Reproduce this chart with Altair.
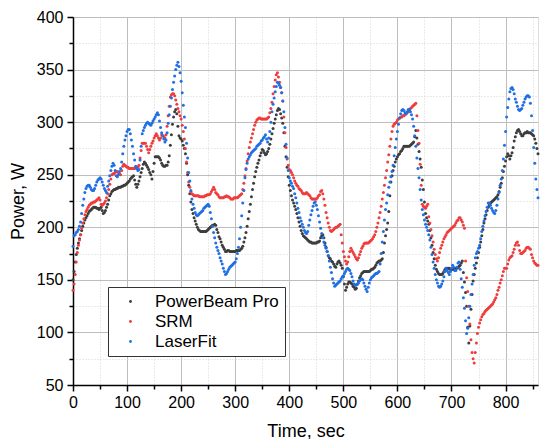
import altair as alt
import pandas as pd

time_s = list(range(0, 861, 2))

powerbeam = [
    150, 158, 167, 174, 180, 185, 189, 193, 197, 201, 204, 207, 209, 211, 213, 215, 216, 217, 218, 219,
    219, 219, 218, 218, 217, 218, 219, 216, 213, 214, 216, 219, 222, 226, 230, 232, 234, 235, 236, 236,
    237, 237, 238, 238, 238, 239, 239, 240, 240, 241, 242, 243, 244, 246, 247, 248, 249, 245, 241, 238,
    241, 244, 248, 252, 256, 260, 262, 261, 259, 257, 255, 252, 250, 246, 253, 261, 267, 267, 267, 267,
    266, 264, 261, 259, 258, 258, 259, 259, 262, 268, 278, 288, 298, 305, 310, 312, 308, 296, 287, 285,
    284, 282, 278, 275, 270, 261, 250, 240, 232, 224, 217, 213, 209, 206, 203, 200, 198, 197, 196, 196,
    196, 196, 196, 196, 197, 198, 199, 200, 201, 202, 202, 203, 202, 198, 195, 191, 189, 186, 183, 181,
    179, 177, 177, 178, 178, 177, 177, 177, 177, 177, 177, 178, 178, 178, 178, 179, 180, 182, 186, 190,
    195, 201, 208, 215, 222, 229, 236, 242, 248, 253, 257, 261, 264, 268, 271, 274, 273, 271, 269, 270,
    272, 275, 279, 284, 289, 294, 299, 303, 307, 311, 313, 312, 308, 304, 299, 290, 277, 267, 257, 248,
    240, 235, 230, 226, 223, 220, 217, 213, 209, 205, 201, 197, 194, 192, 191, 190, 189, 188, 187, 186,
    186, 185, 185, 185, 185, 185, 186, 186, 187, 190, 192, 193, 190, 185, 181, 177, 173, 171, 170, 168,
    167, 165, 163, 162, 165, 167, 168, 166, 164, 161, 153, 146, 140, 143, 146, 148, 148, 147, 146, 144,
    143, 141, 142, 146, 149, 152, 154, 156, 157, 158, 158, 158, 158, 158, 158, 159, 160, 160, 161, 162,
    164, 166, 167, 168, 168, 169, 170, 176, 185, 192, 198, 204, 215, 230, 243, 249, 254, 258, 262, 265,
    267, 269, 270, 272, 273, 275, 277, 277, 277, 277, 277, 277, 278, 279, 280, 281, 286, 292, 285, 279,
    272, 265, 257, 245, 236, 224, 213, 209, 206, 203, 197, 190, 183, 176, 170, 164, 160, 158, 156, 155,
    155, 155, 156, 158, 160, 161, 161, 161, 161, 160, 160, 160, 160, 160, 161, 161, 162, 163, 164, 166,
    168, 157, 148, 138, 125, 105, 90, 106, 122, 136, 149, 155, 161, 166, 171, 176, 181, 186, 192, 198,
    204, 208, 212, 216, 219, 221, 223, 224, 225, 226, 227, 228, 229, 231, 234, 238, 242, 247, 253, 258,
    263, 267, 270, 268, 265, 268, 271, 276, 282, 286, 290, 292, 293, 291, 289, 287, 287, 289, 290, 290,
    291, 290, 290, 290, 289, 288, 287, 284, 280, 275, 270,
]

srm = [
    140, 146, 155, 167, 176, 183, 188, 193, 199, 204, 208, 212, 215, 217, 219, 221, 222, 223, 223, 224,
    224, 225, 226, 227, 228, 226, 222, 221, 222, 223, 225, 228, 232, 236, 241, 246, 250, 251, 251, 252,
    253, 253, 252, 251, 250, 254, 258, 260, 259, 258, 257, 257, 256, 256, 256, 256, 256, 256, 257, 257,
    257, 259, 266, 273, 280, 280, 280, 280, 277, 274, 271, 274, 277, 280, 282, 285, 287, 289, 287, 285,
    283, 285, 288, 287, 286, 285, 288, 296, 306, 315, 324, 326, 327, 327, 325, 321, 317, 313, 310, 306,
    303, 297, 291, 284, 275, 262, 252, 243, 238, 234, 232, 231, 230, 230, 230, 230, 230, 229, 229, 229,
    229, 229, 230, 230, 231, 231, 231, 232, 234, 236, 238, 236, 233, 232, 231, 229, 228, 228, 228, 228,
    229, 229, 230, 229, 229, 228, 227, 227, 227, 228, 228, 228, 228, 229, 230, 231, 232, 236, 242, 249,
    256, 263, 270, 276, 281, 285, 289, 293, 297, 300, 302, 303, 304, 304, 303, 303, 303, 303, 303, 303,
    304, 305, 309, 313, 319, 327, 334, 340, 345, 347, 343, 338, 333, 328, 320, 305, 290, 276, 265, 259,
    255, 254, 252, 250, 247, 244, 242, 240, 239, 237, 236, 235, 233, 232, 232, 232, 233, 232, 231, 230,
    228, 227, 227, 227, 227, 227, 228, 230, 231, 234, 235, 232, 227, 221, 214, 209, 204, 200, 197, 196,
    197, 198, 199, 200, 200, 201, 202, 203, 193, 185, 177, 172, 168, 165, 167, 172, 177, 180, 178, 176,
    174, 172, 170, 169, 171, 174, 177, 180, 182, 184, 185, 185, 185, 185, 186, 187, 188, 189, 191, 193,
    196, 200, 204, 209, 214, 220, 227, 233, 240, 247, 254, 262, 269, 277, 284, 291, 296, 298, 299, 300,
    302, 303, 304, 305, 305, 306, 306, 307, 308, 309, 310, 311, 313, 314, 315, 316, 317, 318, 306, 292,
    280, 260, 240, 222, 220, 219, 218, 220, 222, 210, 204, 198, 192, 186, 179, 174, 170, 168, 171, 176,
    180, 183, 186, 189, 191, 193, 195, 196, 197, 198, 199, 200, 201, 202, 204, 206, 207, 209, 209, 207,
    205, 202, 199, 168, 152, 139, 125, 108, 93, 81, 75, 71, 81, 90, 99, 105, 109, 112, 115, 117,
    118, 120, 121, 122, 123, 124, 125, 126, 127, 129, 131, 133, 136, 140, 143, 147, 150, 154, 158, 161,
    161, 161, 165, 169, 171, 172, 173, 176, 179, 183, 185, 186, 183, 178, 175, 175, 176, 177, 178, 180,
    181, 181, 180, 179, 174, 171, 168, 166, 165, 164, 164,
]

laserfit = [
    182, 192, 193, 195, 196, 198, 201, 205, 213, 221, 227, 233, 237, 239, 240, 240, 238, 236, 235, 235,
    237, 240, 243, 245, 246, 247, 246, 243, 240, 237, 235, 233, 239, 244, 249, 254, 258, 261, 259, 254,
    249, 248, 250, 253, 256, 262, 270, 277, 283, 287, 291, 293, 293, 289, 283, 277, 270, 264, 258, 256,
    254, 255, 264, 277, 289, 292, 295, 297, 299, 300, 299, 298, 297, 299, 301, 303, 305, 307, 309, 307,
    301, 295, 290, 287, 284, 281, 283, 290, 299, 307, 315, 323, 331, 338, 344, 350, 354, 357, 353, 347,
    339, 328, 316, 305, 295, 280, 266, 252, 244, 235, 227, 222, 218, 214, 212, 211, 212, 213, 214, 215,
    216, 218, 219, 220, 221, 222, 220, 214, 208, 201, 195, 190, 185, 181, 178, 175, 171, 168, 165, 161,
    158, 155, 156, 158, 160, 162, 163, 164, 165, 166, 167, 170, 175, 181, 189, 200, 211, 223, 235, 247,
    255, 261, 265, 267, 269, 271, 272, 273, 274, 275, 277, 278, 279, 280, 282, 283, 285, 286, 288, 284,
    281, 285, 291, 300, 310, 317, 323, 329, 334, 338, 337, 335, 333, 328, 320, 310, 295, 279, 266, 254,
    247, 244, 242, 239, 237, 232, 228, 223, 218, 214, 209, 206, 203, 200, 197, 195, 194, 196, 202, 207,
    212, 216, 220, 223, 224, 221, 217, 211, 205, 199, 194, 190, 186, 183, 180, 177, 173, 168, 162, 157,
    151, 147, 144, 145, 146, 147, 148, 149, 151, 153, 154, 156, 158, 160, 161, 160, 159, 156, 153, 149,
    146, 145, 145, 146, 147, 149, 150, 151, 150, 147, 144, 141, 139, 143, 147, 150, 152, 153, 154, 155,
    156, 156, 157, 158, 165, 175, 186, 196, 207, 217, 223, 231, 238, 243, 248, 253, 259, 268, 276, 284,
    291, 298, 304, 308, 311, 312, 311, 309, 308, 310, 312, 312, 310, 307, 303, 296, 287, 277, 266, 256,
    247, 236, 226, 217, 212, 207, 203, 200, 197, 193, 188, 181, 174, 167, 161, 155, 150, 147, 144, 143,
    144, 146, 149, 153, 158, 161, 159, 157, 155, 158, 161, 164, 162, 159, 159, 162, 166, 167, 160, 151,
    143, 133, 123, 111, 99, 104, 114, 125, 136, 146, 155, 164, 171, 175, 177, 180, 183, 189, 196, 201,
    206, 211, 215, 219, 223, 223, 221, 218, 216, 214, 213, 216, 221, 227, 233, 240, 246, 254, 265, 278,
    291, 305, 314, 322, 329, 332, 333, 331, 327, 322, 319, 315, 312, 311, 312, 313, 316, 319, 322, 324,
    325, 325, 324, 318, 306, 292, 276, 261, 246, 236, 228,
]

series_names = ["PowerBeam Pro", "SRM", "LaserFit"]
series_colors = ["#3d3d3d", "#f03c3c", "#1f6fe5"]

x_ticks = list(range(0, 851, 50))
y_ticks = list(range(50, 401, 25))

rows = []
for name, vals in zip(series_names, [powerbeam, srm, laserfit]):
    for t, v in zip(time_s, vals):
        rows.append({"t": t, "p": v, "s": name})
df = pd.DataFrame(rows)

FONT = "Liberation Sans"
major_x = "datum.value % 100 === 0"
major_y = "datum.value % 50 === 0"

x_axis = alt.Axis(
    values=x_ticks,
    title="Time, sec",
    titleFontSize=18,
    titleFontWeight="normal",
    titleFont=FONT,
    titleColor="black",
    titlePadding=12,
    labelExpr=f"{major_x} ? datum.label : ''",
    labelFontSize=16,
    labelFont=FONT,
    labelColor="black",
    labelPadding=3,
    labelOverlap=False,
    labelFlush=False,
    domainColor="black",
    domainWidth=1.5,
    tickColor="black",
    tickWidth=1.5,
    tickSize={"condition": {"test": major_x, "value": 6}, "value": 4},
    gridColor={"condition": {"test": major_x, "value": "#bdbdbd"}, "value": "#d4d4d4"},
    gridDash={"condition": {"test": major_x, "value": []}, "value": [1, 2]},
    gridWidth=1,
)

y_axis = alt.Axis(
    values=y_ticks,
    title="Power, W",
    titleFontSize=18,
    titleFontWeight="normal",
    titleFont=FONT,
    titleColor="black",
    titlePadding=9,
    labelExpr=f"{major_y} ? datum.label : ''",
    labelFontSize=16,
    labelFont=FONT,
    labelColor="black",
    labelPadding=4,
    labelOverlap=False,
    labelFlush=False,
    domainColor="black",
    domainWidth=1.5,
    tickColor="black",
    tickWidth=1.5,
    tickSize={"condition": {"test": major_y, "value": 6}, "value": 4},
    gridColor={"condition": {"test": major_y, "value": "#bdbdbd"}, "value": "#d4d4d4"},
    gridDash={"condition": {"test": major_y, "value": []}, "value": [1, 2]},
    gridWidth=1,
)

legend = alt.Legend(
    orient="none",
    legendX=35,
    legendY=270,
    title=None,
    labelFontSize=17,
    labelFont=FONT,
    labelColor="black",
    symbolType="circle",
    symbolSize=8,
    symbolStrokeWidth=0,
    strokeColor="#333333",
    fillColor="white",
    padding=6,
    rowPadding=2,
    symbolOffset=8,
    labelOffset=16,
)

chart = (
    alt.Chart(df)
    .mark_circle(size=9, opacity=1)
    .encode(
        x=alt.X("t:Q", scale=alt.Scale(domain=[0, 860], nice=False, zero=False), axis=x_axis),
        y=alt.Y("p:Q", scale=alt.Scale(domain=[50, 400], nice=False, zero=False), axis=y_axis),
        color=alt.Color(
            "s:N",
            scale=alt.Scale(domain=series_names, range=series_colors),
            sort=series_names,
            legend=legend,
        ),
    )
    .properties(
        width=465,
        height=368,
        autosize=alt.AutoSizeParams(type="none"),
        padding={"left": 65, "top": 9, "right": 4, "bottom": 54},
    )
    .configure_view(stroke=None)
    .configure(background="white")
)

chart.save("out.html", embed_options={"renderer": "svg", "actions": False})
